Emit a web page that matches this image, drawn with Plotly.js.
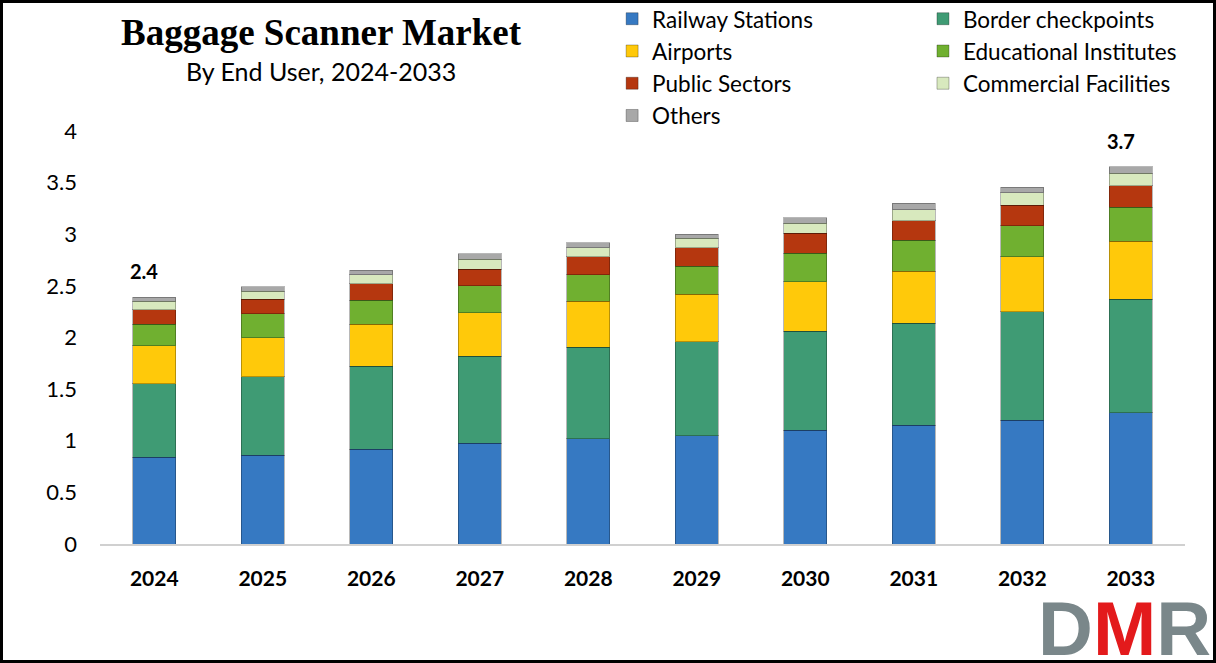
<!DOCTYPE html>
<html>
<head>
<meta charset="utf-8">
<script src="https://cdn.plot.ly/plotly-3.0.1.min.js"></script>
<style>
  html, body { margin: 0; padding: 0; background: #fff; }
  #chart { width: 1210px; height: 657px; border: 3px solid #000; }
</style>
</head>
<body>
<div id="chart"></div>
<script>
// ---- data ----
const years = ["2024","2025","2026","2027","2028","2029","2030","2031","2032","2033"];
const railwayStations      = [0.84, 0.86, 0.92, 0.975, 1.02, 1.05, 1.10, 1.15, 1.20, 1.27];
const borderCheckpoints    = [0.71, 0.76, 0.80, 0.845, 0.885, 0.91, 0.96, 0.99, 1.05, 1.10];
const airports             = [0.37, 0.38, 0.41, 0.42, 0.445, 0.46, 0.48, 0.50, 0.53, 0.56];
const educationalInstitutes= [0.21, 0.23, 0.23, 0.26, 0.26, 0.27, 0.275, 0.30, 0.30, 0.33];
const publicSectors        = [0.14, 0.14, 0.16, 0.16, 0.17, 0.18, 0.195, 0.19, 0.20, 0.21];
const commercialFacilities = [0.08, 0.08, 0.09, 0.10, 0.09, 0.09, 0.095, 0.105, 0.12, 0.12];
const others               = [0.04, 0.04, 0.04, 0.05, 0.05, 0.04, 0.055, 0.065, 0.055, 0.065];
const labelYears = ["2024", "2033"];
const labelTexts = ["2.4", "3.7"];
const yTickVals = [0, 0.5, 1, 1.5, 2, 2.5, 3, 3.5, 4];

// ---- traces ----
const seriesDefs = [
  {name: "Railway Stations",      y: railwayStations,       color: "#3679C2", legend: "legend"},
  {name: "Border checkpoints",    y: borderCheckpoints,     color: "#3F9B74", legend: "legend2"},
  {name: "Airports",              y: airports,              color: "#FFC90A", legend: "legend"},
  {name: "Educational Institutes",y: educationalInstitutes, color: "#70B030", legend: "legend2"},
  {name: "Public Sectors",        y: publicSectors,         color: "#B5370F", legend: "legend"},
  {name: "Commercial Facilities", y: commercialFacilities,  color: "#D8E9BE", legend: "legend2"},
  {name: "Others",                y: others,                color: "#A8A8A8", legend: "legend"}
];

const traces = seriesDefs.map(s => ({
  type: "bar",
  name: s.name,
  x: years,
  y: s.y,
  legend: s.legend,
  marker: {color: s.color, line: {color: "rgba(0,0,0,0.28)", width: 1}},
  hoverinfo: "x+y+name"
}));

const totals = years.map((_, i) => seriesDefs.reduce((acc, s) => acc + s.y[i], 0));

const annotations = labelYears.map((yr, k) => ({
  x: years.indexOf(yr), y: totals[years.indexOf(yr)], xref: "x", yref: "y",
  text: "<b>" + labelTexts[k] + "</b>", showarrow: false,
  yanchor: "bottom", yshift: 12, xshift: -10,
  font: {family: "Lato, 'Open Sans', sans-serif", size: 20, color: "#000"}
}));

annotations.push({
  xref: "paper", yref: "paper", x: 0.204, y: 1.238,
  text: "<b>Baggage Scanner Market</b>", showarrow: false,
  xanchor: "center", yanchor: "middle",
  font: {family: "'Liberation Serif', 'Times New Roman', serif", size: 37, color: "#000"}
});
annotations.push({
  xref: "paper", yref: "paper", x: 0.204, y: 1.146,
  text: "By End User, 2024-2033", showarrow: false,
  xanchor: "center", yanchor: "middle",
  font: {family: "Lato, 'Open Sans', sans-serif", size: 25, color: "#000"}
});
annotations.push({
  xref: "paper", yref: "paper", x: 1.026, y: -0.205,
  text: '<b><span style="color:#7A878A">D</span><span style="color:#E31A1C">M</span><span style="color:#7A878A">R</span></b>',
  showarrow: false, xanchor: "right", yanchor: "middle",
  font: {family: "'Liberation Sans', Arial, sans-serif", size: 76}
});

const legendFont = {family: "Lato, 'Open Sans', sans-serif", size: 22.5, color: "#000"};

const layout = {
  width: 1210, height: 657,
  margin: {l: 97, r: 28, t: 128, b: 116, autoexpand: false},
  paper_bgcolor: "#fff", plot_bgcolor: "#fff",
  barmode: "stack",
  bargap: 0.6,
  showlegend: true,
  legend: {x: 0.472, y: 1.323, xanchor: "left", yanchor: "top", orientation: "v",
           font: legendFont, bgcolor: "rgba(0,0,0,0)", traceorder: "normal"},
  legend2: {x: 0.7585, y: 1.323, xanchor: "left", yanchor: "top", orientation: "v",
            font: legendFont, bgcolor: "rgba(0,0,0,0)", traceorder: "normal"},
  xaxis: {
    type: "category", showline: true, linecolor: "#D0D0D0", linewidth: 1.5,
    ticks: "", showgrid: false, zeroline: false, ticklabelstandoff: 15,
    range: [-0.5, years.length - 0.5],
    tickfont: {family: "Lato, 'Open Sans', sans-serif", size: 21, color: "#000", weight: "bold"}
  },
  yaxis: {
    range: [0, 4], tickvals: yTickVals, showgrid: false, zeroline: false, showline: false,
    ticks: "", ticklabelstandoff: 22,
    tickfont: {family: "Lato, 'Open Sans', sans-serif", size: 22, color: "#000"}
  },
  annotations: annotations
};

Plotly.newPlot("chart", traces, layout, {displayModeBar: false});
</script>
</body>
</html>
